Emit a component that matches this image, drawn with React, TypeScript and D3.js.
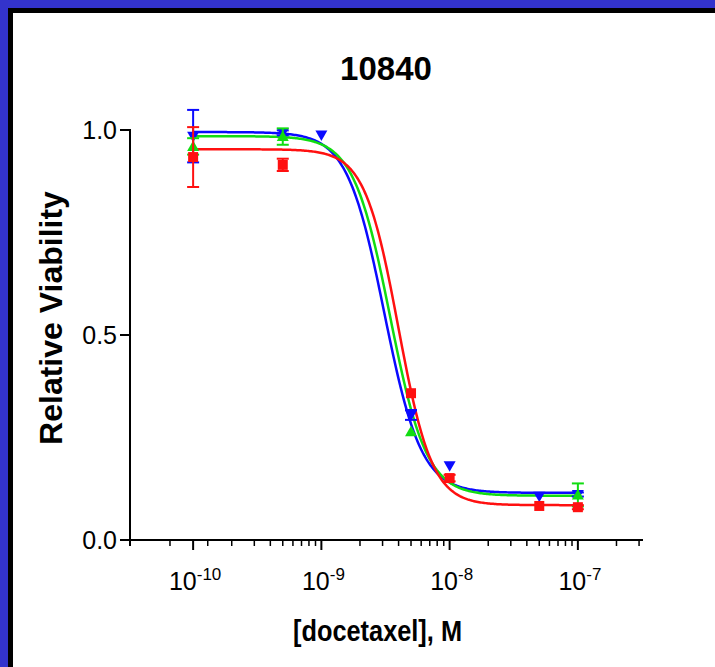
import React from "react";
import * as d3 from "d3";

// concentrations, M
const conc = [1e-10, 5e-10, 1e-9, 5e-9, 1e-8, 5e-8, 1e-7];

// mean relative viability (null = no point shown)
const blueVals = [0.985, 0.993, 0.988, 0.305, 0.181, 0.107, 0.111];
const blueErr = [0.064, 0.006, 0, 0.012, 0, 0, 0.005];
const greenVals = [0.96, 0.984, null, 0.264, null, null, 0.11];
const greenErr = [0.02, 0.02, 0, 0, 0, 0, 0.028];
const redVals = [0.934, 0.915, null, 0.358, 0.151, 0.083, 0.08];
const redErr = [0.073, 0.015, 0, 0, 0.008, 0, 0.005];

// 4PL fit parameters: top, bottom, logIC50, hill
const blueFit = [0.995, 0.115, -8.51, 3.0];
const greenFit = [0.985, 0.108, -8.465, 3.05];
const redFit = [0.953, 0.085, -8.4, 3.3];

const yTicks = [0, 0.5, 1.0];
const xMajor = [-10, -9, -8, -7];
const xExtraMinor = [6.6e-11, 1.3e-10];

const W = 715;
const H = 667;
const font = "'Liberation Sans', Arial, Helvetica, sans-serif";

const x = d3.scaleLog().domain([Math.pow(10, -10.5), Math.pow(10, -6.5)]).range([129, 642]);
const y = d3.scaleLinear().domain([0, 1]).range([540, 130]);

const series = [
  { name: "blue", color: "#0a0aff", vals: blueVals, err: blueErr, fit: blueFit, shape: "down" },
  { name: "green", color: "#11dd11", vals: greenVals, err: greenErr, fit: greenFit, shape: "up" },
  { name: "red", color: "#ff1010", vals: redVals, err: redErr, fit: redFit, shape: "square" },
];

const fourPL = (p: number[], lx: number) => p[1] + (p[0] - p[1]) / (1 + Math.pow(10, p[3] * (lx - p[2])));

const minorTicks: number[] = [];
for (let e = -10; e <= -7; e++) {
  for (let m = 2; m <= 9; m++) {
    const v = m * Math.pow(10, e);
    if (v <= Math.pow(10, -6.5)) minorTicks.push(v);
  }
}
xExtraMinor.forEach((v) => minorTicks.push(v));

const line = d3
  .line<number>()
  .x((lx) => x(Math.pow(10, lx)))
  .curve(d3.curveLinear);

function Marker({ shape, cx, cy, color }: { shape: string; cx: number; cy: number; color: string }) {
  if (shape === "square") return <rect x={cx - 5} y={cy - 5} width={10} height={10} fill={color} />;
  const s = 6;
  const pts =
    shape === "up"
      ? [[cx, cy - s], [cx - s, cy + s * 0.75], [cx + s, cy + s * 0.75]]
      : [[cx, cy + s], [cx - s, cy - s * 0.75], [cx + s, cy - s * 0.75]];
  return <polygon points={pts.map((p) => p.join(",")).join(" ")} fill={color} />;
}

export default function App() {
  const lxs = d3.range(-10, -6.999, 0.01);
  return (
    <svg width={W} height={H} style={{ position: "absolute", left: 0, top: 0, background: "#fff" }}>
      <rect x={0} y={0} width={W} height={H} fill="#fff" />
      {/* frame */}
      <rect x={0} y={0} width={W} height={8} fill="#3333cc" />
      <rect x={0} y={0} width={8} height={H} fill="#3333cc" />
      <rect x={8} y={8} width={W - 8} height={5} fill="#000" />
      <rect x={8} y={8} width={5} height={H - 8} fill="#000" />

      <text x={386} y={80} textAnchor="middle" fontFamily={font} fontWeight="bold" fontSize={33}>
        10840
      </text>

      {/* y axis */}
      <line x1={130} x2={130} y1={y(1) - 1} y2={y(0) + 6} stroke="#000" strokeWidth={2} />
      {yTicks.map((t) => (
        <g key={t}>
          <line x1={120} x2={130} y1={y(t)} y2={y(t)} stroke="#000" strokeWidth={2} />
          <text x={117} y={y(t) + 9} textAnchor="end" fontFamily={font} fontSize={25}>
            {t.toFixed(1)}
          </text>
        </g>
      ))}
      <text
        transform={`translate(62,${318}) rotate(-90)`}
        textAnchor="middle"
        fontFamily={font}
        fontWeight="bold"
        fontSize={32}
      >
        Relative Viability
      </text>

      {/* x axis */}
      <line x1={129} x2={643} y1={y(0)} y2={y(0)} stroke="#000" strokeWidth={2} />
      {minorTicks.map((t, i) => (
        <line key={i} x1={x(t)} x2={x(t)} y1={y(0)} y2={y(0) + 6} stroke="#000" strokeWidth={1.5} />
      ))}
      {xMajor.map((e) => (
        <g key={e}>
          <line x1={x(Math.pow(10, e))} x2={x(Math.pow(10, e))} y1={y(0)} y2={y(0) + 10} stroke="#000" strokeWidth={2} />
          <text x={x(Math.pow(10, e)) + 2} y={590} textAnchor="middle" fontFamily={font} fontSize={25}>
            <tspan>10</tspan>
            <tspan dy={-10} fontSize={17}>
              {String(e)}
            </tspan>
          </text>
        </g>
      ))}
      <text
        x={293}
        y={641}
        textLength={169}
        lengthAdjust="spacingAndGlyphs"
        fontFamily={font}
        fontWeight="bold"
        fontSize={30}
      >
        [docetaxel], M
      </text>

      {/* fit curves */}
      {series.map((s) => (
        <path
          key={s.name}
          d={line.y((lx) => y(fourPL(s.fit, lx)))(lxs) || ""}
          fill="none"
          stroke={s.color}
          strokeWidth={2.5}
        />
      ))}

      {/* error bars and points */}
      {series.map((s) => (
        <g key={s.name}>
          {conc.map((c, i) => {
            const v = s.vals[i];
            if (v == null) return null;
            const e = s.err[i];
            const cx = x(c);
            return (
              <g key={i}>
                {e > 0 && (
                  <g stroke={s.color} strokeWidth={2}>
                    <line x1={cx} x2={cx} y1={y(v + e)} y2={y(v - e)} />
                    <line x1={cx - 6} x2={cx + 6} y1={y(v + e)} y2={y(v + e)} />
                    <line x1={cx - 6} x2={cx + 6} y1={y(v - e)} y2={y(v - e)} />
                  </g>
                )}
                <Marker shape={s.shape} cx={cx} cy={y(v)} color={s.color} />
              </g>
            );
          })}
        </g>
      ))}
    </svg>
  );
}
